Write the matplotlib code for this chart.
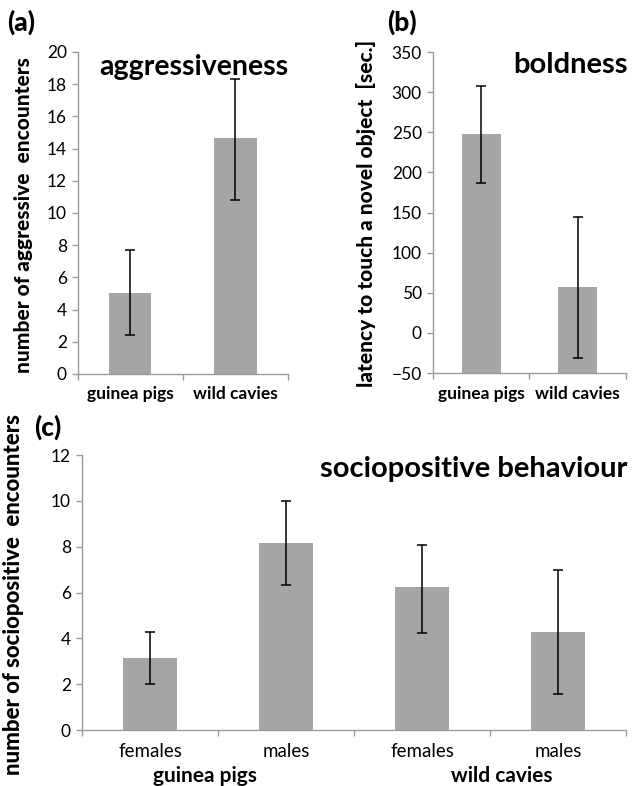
import matplotlib
matplotlib.use("Agg")
import matplotlib.pyplot as plt
import numpy as np

plt.rcParams['font.family'] = ['Lato', 'DejaVu Sans']

# (a) aggressiveness
a_cats = ["guinea pigs", "wild cavies"]
a_vals = [5.05, 14.68]
a_lo = [2.42, 10.82]
a_hi = [7.67, 18.35]

# (b) boldness
b_cats = ["guinea pigs", "wild cavies"]
b_vals = [247.5, 57.0]
b_lo = [187.0, -31.0]
b_hi = [307.5, 144.0]

# (c) sociopositive behaviour
c_cats = ["females", "males", "females", "males"]
c_groups = ["guinea pigs", "wild cavies"]
c_vals = [3.16, 8.18, 6.25, 4.29]
c_lo = [2.0, 6.33, 4.25, 1.57]
c_hi = [4.27, 10.0, 8.09, 6.98]

BAR = "#a5a5a5"
AX = "#9a9a9a"

fig = plt.figure(figsize=(6.32, 7.86), dpi=100)


def bar_panel(ax, cats, vals, lo, hi, ylim, yticks, xweight, xsize):
    x = np.arange(len(cats))
    vals = np.array(vals)
    err = [vals - np.array(lo), np.array(hi) - vals]
    # excel style: bars grow from the axis minimum
    ax.bar(x, vals - ylim[0], bottom=ylim[0], width=0.4, color=BAR, zorder=2)
    ax.errorbar(x, vals, yerr=err, fmt="none", ecolor="black", elinewidth=1.1,
                capsize=3.5, capthick=1.1, zorder=3)
    ax.set_xlim(-0.5, len(cats) - 0.5)
    ax.set_ylim(*ylim)
    ax.set_yticks(yticks)
    ax.set_xticks(x)
    ax.set_xticklabels(cats, fontsize=xsize, fontweight=xweight)
    ax.set_xticks(np.arange(len(cats) + 1) - 0.5, minor=True)
    ax.tick_params(axis="x", which="major", length=0, pad=9)
    ax.tick_params(axis="x", which="minor", length=4, color=AX, width=1)
    ax.tick_params(axis="y", length=4, color=AX, width=1, labelsize=12.5, pad=4)
    for s in ["top", "right"]:
        ax.spines[s].set_visible(False)
    for s in ["left", "bottom"]:
        ax.spines[s].set_color(AX)
        ax.spines[s].set_linewidth(1)


ax_a = fig.add_axes([0.1234, 0.5242, 0.3323, 0.4097])
bar_panel(ax_a, a_cats, a_vals, a_lo, a_hi, (0, 20), np.arange(0, 21, 2), "bold", 12.5)
ax_a.text(0.55, 0.953, "aggressiveness", transform=ax_a.transAxes,
          fontsize=20.5, fontweight="bold", ha="center", va="center")

ax_b = fig.add_axes([0.6851, 0.5254, 0.3054, 0.4084])
bar_panel(ax_b, b_cats, b_vals, b_lo, b_hi, (-50, 350), np.arange(-50, 351, 50), "bold", 12.5)
ax_b.text(1.01, 0.96, "boldness", transform=ax_b.transAxes,
          fontsize=21, fontweight="bold", ha="right", va="center")

ax_c = fig.add_axes([0.1297, 0.0712, 0.8608, 0.3499])
bar_panel(ax_c, c_cats, c_vals, c_lo, c_hi, (0, 12), np.arange(0, 13, 2), "normal", 13.5)
ax_c.text(1.003, 0.95, "sociopositive behaviour", transform=ax_c.transAxes,
          fontsize=21, fontweight="bold", ha="right", va="center")

# group labels under (c)
fig.text(205 / 632, 1 - 776 / 786, c_groups[0], fontsize=15, fontweight="bold", ha="center", va="center")
fig.text(502 / 632, 1 - 776 / 786, c_groups[1], fontsize=15, fontweight="bold", ha="center", va="center")

# y axis labels
fig.text(24 / 632, 1 - 215 / 786, "number of aggressive  encounters", rotation=90,
         fontsize=15, fontweight="black", ha="center", va="center")
fig.text(366 / 632, 1 - 213 / 786, "latency to touch a novel object  [sec.]", rotation=90,
         fontsize=15, fontweight="black", ha="center", va="center")
fig.text(14 / 632, 1 - 595 / 786, "number of sociopositive  encounters", rotation=90,
         fontsize=16, fontweight="black", ha="center", va="center")

# panel letters
fig.text(7 / 632, 1 - 22 / 786, "(a)", fontsize=19, fontweight="black", ha="left", va="center")
fig.text(387 / 632, 1 - 22 / 786, "(b)", fontsize=19, fontweight="black", ha="left", va="center")
fig.text(34 / 632, 1 - 427 / 786, "(c)", fontsize=19, fontweight="black", ha="left", va="center")

fig.savefig("out.png", dpi=100, facecolor="white")
